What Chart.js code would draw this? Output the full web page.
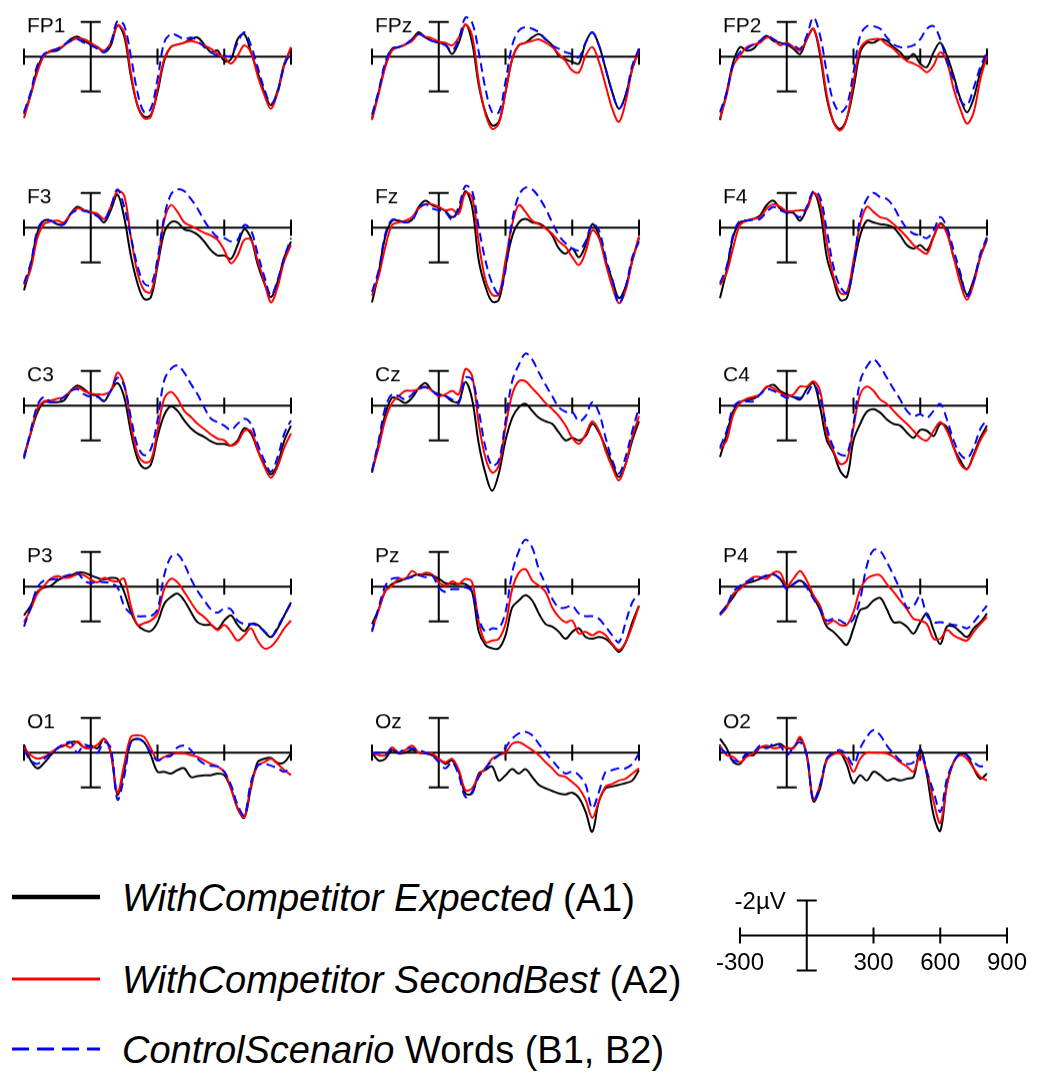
<!DOCTYPE html>
<html>
<head>
<meta charset="utf-8">
<script src="https://cdn.jsdelivr.net/npm/chart.js@4.4.1/dist/chart.umd.min.js"></script>
<style>
  body { margin: 0; width: 1037px; height: 1080px; background: #fff; position: relative; overflow: hidden;
         font-family: "Liberation Sans", Arial, sans-serif; }
  .panel { position: absolute; }
  .leg { position: absolute; left: 122px; font-size: 38px; line-height: 38px; white-space: nowrap; color: #000; }
  .legline { position: absolute; left: 12px; }
</style>
</head>
<body>
<script>
// time axis of every waveform (ms), one sample every 30 ms
const timesMs = [-300, -270, -240, -210, -180, -150, -120, -90, -60, -30,
  0, 30, 60, 90, 120, 150, 180, 210, 240, 270,
  300, 330, 360, 390, 420, 450, 480, 510, 540, 570,
  600, 630, 660, 690, 720, 750, 780, 810, 840, 870, 900];
const tickTimes = [-300, 300, 600, 900];
const scaleTickLabels = ['-300', '300', '600', '900'];
const scaleUnitLabel = '-2µV';

// amplitudes in µV (negative plotted up). A1 = Expected, A2 = SecondBest, B = Control
const fp1A1 = [3.3, 2.2, 0.7, -0.1, -0.3, -0.35, -0.65, -1.0, -1.15, -0.9, -0.7, -0.55, -0.25, -0.65, -1.8, -1.2, 1.1, 2.8, 3.45, 3.35, 2.05, 0.25, -0.55, -0.7, -0.8, -1.0, -1.1, -0.7, -0.25, -0.35, 0.25, 0.15, -1.0, -1.3, -0.25, 0.9, 2.05, 2.8, 1.95, 0.4, -0.45];
const fp1A2 = [3.55, 2.2, 0.9, -0.05, -0.35, -0.45, -0.65, -0.9, -1.05, -1.0, -0.8, -0.55, -0.35, -0.8, -1.8, -1.4, 0.9, 2.8, 3.55, 3.45, 1.85, 0.15, -0.55, -0.7, -0.8, -0.9, -0.8, -0.65, -0.45, -0.15, 0.05, 0.4, -0.05, -0.65, -0.25, 1.1, 2.2, 3.0, 2.05, 0.5, -0.55];
const fp1B = [3.2, 2.05, 0.5, -0.15, -0.3, -0.45, -0.7, -0.9, -1.0, -0.8, -0.65, -0.45, -0.25, -0.8, -2.05, -1.8, -0.05, 2.05, 3.2, 3.0, 1.3, -0.8, -1.3, -1.2, -1.0, -1.1, -0.9, -0.55, -0.25, -0.05, -0.05, -0.05, -0.8, -1.4, -0.65, 0.6, 1.85, 2.7, 2.05, 0.5, -0.25];

const fpzA1 = [3.55, 2.05, 0.5, -0.45, -0.55, -0.7, -1.0, -1.4, -1.1, -0.9, -0.8, -0.7, -0.15, -0.8, -1.85, -0.8, 1.65, 3.2, 3.95, 3.75, 2.05, 0.15, -0.65, -0.8, -1.1, -1.3, -1.0, -0.65, -0.05, 0.15, 0.3, 0.4, -0.8, -1.4, -0.65, 0.7, 2.05, 3.0, 2.2, 0.7, -0.45];
const fpzA2 = [3.65, 2.15, 0.6, -0.35, -0.55, -0.7, -0.9, -1.3, -1.15, -1.05, -0.85, -0.8, -0.65, -1.1, -1.85, -1.2, 1.45, 3.3, 4.15, 3.85, 2.05, 0.15, -0.65, -0.8, -0.9, -1.0, -0.8, -0.55, -0.15, 0.25, 0.8, 0.9, -0.05, -0.55, 0.3, 1.65, 3.0, 3.75, 2.6, 0.7, -0.35];
const fpzB = [3.35, 1.95, 0.3, -0.45, -0.55, -0.7, -1.0, -1.3, -1.1, -0.9, -0.8, -0.65, -0.35, -1.0, -2.25, -1.95, -0.25, 1.85, 3.2, 3.2, 1.45, -0.65, -1.5, -1.7, -1.6, -1.4, -1.0, -0.65, -0.45, -0.25, -0.15, 0.05, -0.8, -1.4, -0.65, 0.7, 2.05, 3.0, 2.2, 0.5, -0.45];

const fp2A1 = [3.65, 2.05, 0.3, -0.55, -0.35, -0.45, -0.9, -1.2, -0.9, -0.8, -0.7, -0.45, -0.15, -1.0, -1.6, -0.05, 2.4, 3.75, 4.15, 3.55, 1.85, -0.25, -0.8, -0.8, -1.0, -0.9, -0.55, -0.25, 0.15, -0.15, 0.4, 0.6, -0.25, -0.8, -0.05, 1.1, 2.4, 3.2, 2.4, 0.9, -0.05];
const fp2A2 = [3.55, 2.2, 0.5, -0.05, -0.55, -0.7, -0.8, -1.1, -1.0, -0.65, -0.8, -0.55, -0.35, -1.0, -1.6, -0.25, 2.2, 3.75, 4.25, 3.55, 1.45, -0.45, -0.9, -1.0, -1.0, -0.7, -0.45, -0.05, 0.25, 0.4, 0.6, 0.9, 0.5, -0.25, 0.3, 1.85, 3.0, 3.85, 3.2, 1.3, -0.05];
const fp2B = [3.2, 2.05, 0.4, -0.25, -0.45, -0.7, -0.9, -1.2, -1.0, -0.8, -0.7, -0.65, -0.45, -1.2, -2.25, -1.2, 0.9, 2.6, 3.2, 2.8, 0.9, -1.2, -1.75, -1.75, -1.6, -1.1, -0.7, -0.55, -0.55, -0.65, -1.0, -1.6, -1.75, -1.0, 0.3, 1.3, 2.5, 2.8, 1.8, 0.6, -0.25];

const f3A1 = [3.6, 2.2, 0.3, -0.4, -0.4, -0.2, -0.2, -0.8, -1.2, -1.0, -0.9, -0.7, -0.3, -1.0, -1.9, -0.6, 1.6, 3.2, 4.1, 4.0, 2.2, 0.3, -0.3, -0.3, 0.1, 0.2, 0.4, 0.8, 1.3, 1.6, 1.6, 1.8, 1.0, 0.1, 0.6, 2.1, 3.2, 4.0, 3.1, 1.7, 0.8];
const f3A2 = [3.3, 2.4, 0.6, -0.2, -0.35, -0.4, -0.3, -0.8, -1.1, -1.0, -0.9, -0.8, -0.5, -1.2, -2.1, -1.85, 0.5, 2.6, 3.6, 3.7, 2.05, -0.4, -1.3, -0.9, -0.3, -0.1, 0.1, 0.3, 0.45, 0.7, 1.3, 2.05, 1.6, 0.7, 0.7, 1.9, 3.1, 4.3, 3.4, 1.9, 1.0];
const f3B = [3.2, 2.05, 0.15, -0.45, -0.4, -0.2, -0.2, -0.8, -1.0, -0.95, -0.85, -0.65, -0.4, -1.2, -2.2, -1.2, 0.5, 2.2, 3.2, 3.3, 1.8, -0.6, -1.9, -2.2, -2.1, -1.65, -1.1, -0.4, 0.15, 0.55, 0.6, 0.8, 0.7, -0.15, 0.15, 1.5, 2.8, 3.9, 3.0, 1.7, 0.6];

const fzA1 = [4.3, 2.6, 0.5, -0.4, -0.4, -0.3, -0.45, -1.2, -1.55, -1.3, -1.15, -0.95, -0.6, -1.0, -2.1, -1.2, 1.9, 3.4, 4.25, 4.15, 2.25, 0.5, -0.3, -0.5, -0.3, -0.25, 0, 0.45, 1.2, 1.5, 1.2, 1.7, 1.0, -0.2, 0.45, 1.9, 3.0, 4.05, 3.4, 1.9, 0.6];
const fzA2 = [3.9, 2.8, 1.1, -0.15, -0.3, -0.4, -0.6, -1.1, -1.35, -1.35, -1.2, -1.0, -1.05, -0.8, -2.0, -1.75, 0.9, 3.0, 3.85, 3.85, 1.9, -0.2, -1.3, -0.9, -0.4, -0.2, 0.05, 0.35, 0.8, 1.1, 1.7, 2.15, 1.4, 0.15, 0.6, 2.05, 3.4, 4.35, 3.6, 1.9, 0.5];
const fzB = [3.7, 2.45, 0.35, -0.45, -0.4, -0.3, -0.4, -1.1, -1.35, -1.1, -1.0, -0.9, -0.45, -1.2, -2.4, -2.1, 0, 1.9, 3.2, 3.8, 2.45, -0.4, -1.85, -2.3, -2.2, -1.75, -1.1, -0.3, 0.45, 0.9, 1.2, 1.3, 0.8, -0.2, 0.15, 1.7, 3.0, 4.35, 3.4, 1.7, 0.8];

const f4A1 = [4.05, 2.45, 0.5, -0.3, -0.4, -0.5, -0.7, -1.3, -1.55, -1.1, -0.9, -0.85, -0.4, -1.1, -2.0, -1.0, 1.7, 3.0, 4.15, 4.05, 2.25, 0.45, -0.4, -0.3, -0.2, -0.15, 0, 0.45, 1.0, 1.2, 1.0, 1.3, 0.5, -0.25, 0.25, 1.7, 2.8, 3.85, 3.0, 1.7, 0.7];
const f4A2 = [3.3, 2.6, 1.1, -0.15, -0.4, -0.5, -0.6, -1.1, -1.35, -1.2, -0.95, -0.95, -1.0, -1.05, -2.0, -1.45, 0.9, 2.8, 3.75, 3.75, 1.9, -0.2, -1.2, -0.9, -0.6, -0.5, -0.2, 0.15, 0.55, 1.0, 1.3, 1.5, 0.55, -0.2, 0.35, 1.7, 3.2, 4.15, 3.2, 1.7, 0.6];
const f4B = [3.2, 2.25, 0.35, -0.4, -0.4, -0.45, -0.5, -0.9, -1.2, -1.0, -0.85, -0.8, -0.6, -1.2, -2.1, -1.75, 0.15, 2.25, 3.4, 3.75, 2.25, -0.6, -1.65, -2.0, -1.75, -1.65, -1.2, -0.5, 0.05, 0.35, 0.45, 0.6, 0.15, -0.6, 0, 1.3, 2.6, 3.95, 3.1, 1.5, 0.55];

const c3A1 = [2.95, 1.6, 0.4, -0.2, -0.2, -0.2, -0.3, -0.85, -1.15, -0.95, -0.65, -0.55, -0.25, -0.85, -1.3, -0.5, 1.5, 3.05, 3.6, 3.4, 1.8, 0.55, 0.05, 0.3, 0.85, 1.3, 1.6, 1.8, 2.05, 2.2, 2.2, 2.3, 2.0, 1.3, 1.6, 2.55, 3.4, 3.95, 3.35, 2.0, 1.15];
const c3A2 = [2.85, 1.6, 0.2, -0.25, -0.3, -0.4, -0.5, -0.85, -1.05, -0.85, -0.7, -0.65, -0.65, -0.85, -1.9, -1.25, 1.05, 2.75, 3.25, 3.15, 1.45, -0.4, -0.8, -0.4, 0.3, 0.65, 1.05, 1.35, 1.65, 1.9, 2.0, 2.3, 2.1, 1.45, 1.45, 2.55, 3.5, 4.15, 3.5, 2.4, 1.6];
const c3B = [3.05, 1.45, 0, -0.5, -0.2, -0.25, -0.5, -0.85, -0.95, -0.65, -0.5, -0.5, -0.3, -0.85, -1.6, -1.15, 0.65, 2.3, 2.85, 2.5, 0.85, -1.45, -2.1, -2.3, -1.9, -1.25, -0.65, 0.1, 0.75, 0.95, 1.15, 1.4, 1.05, 0.75, 1.05, 2.2, 3.15, 3.8, 2.95, 1.6, 0.85];

const czA1 = [3.85, 2.2, 0.5, -0.45, -0.35, -0.15, -0.45, -1.0, -1.3, -0.85, -0.65, -0.55, -0.25, -0.25, -1.35, -0.35, 2.2, 3.9, 4.9, 3.9, 2.0, 0.7, 0.1, -0.1, 0.3, 0.7, 0.9, 1.05, 1.55, 2.0, 1.85, 2.0, 1.75, 1.05, 1.55, 2.4, 3.35, 4.1, 3.35, 2.0, 0.9];
const czA2 = [3.75, 2.4, 0.8, -0.15, -0.55, -0.85, -0.85, -0.95, -1.1, -0.85, -0.55, -0.65, -0.85, -0.65, -2.1, -1.7, 1.05, 3.0, 3.85, 3.45, 1.25, -0.65, -1.4, -1.4, -1.0, -0.6, -0.15, 0.2, 0.6, 1.15, 1.85, 2.2, 1.65, 0.9, 1.45, 2.6, 3.55, 4.3, 3.35, 1.8, 0.6];
const czB = [3.75, 2.0, 0.1, -0.65, -0.55, -0.35, -0.65, -0.95, -1.05, -0.85, -0.6, -0.55, -0.35, -0.15, -1.6, -1.5, 0.3, 2.4, 3.45, 3.15, 0.9, -1.4, -2.35, -3.0, -2.65, -1.9, -1.2, -0.55, 0.1, 0.35, 0.35, 0.9, 0.6, -0.2, 0.4, 1.85, 3.15, 3.9, 2.95, 1.45, 0.1];

const c4A1 = [2.95, 1.65, 0.3, -0.2, -0.35, -0.4, -0.65, -1.05, -1.2, -0.85, -0.65, -0.5, -0.35, -0.95, -1.3, 0.1, 2.0, 2.7, 3.75, 4.1, 2.0, 1.05, 0.35, 0.2, 0.4, 0.8, 1.05, 1.15, 1.55, 1.85, 1.4, 1.45, 1.75, 1.05, 1.25, 2.4, 3.15, 3.65, 2.8, 1.85, 1.15];
const c4A2 = [2.5, 2.0, 0.5, -0.15, -0.4, -0.5, -0.65, -1.1, -1.0, -0.75, -0.55, -0.65, -1.1, -1.1, -1.4, -0.85, 1.65, 2.6, 3.35, 3.15, 1.25, -0.65, -1.1, -0.85, -0.35, -0.1, 0.3, 0.7, 1.05, 1.45, 1.85, 2.0, 1.45, 0.95, 1.45, 2.4, 3.35, 3.65, 2.9, 2.0, 1.35];
const c4B = [2.4, 1.45, 0.1, -0.25, -0.25, -0.25, -0.65, -0.95, -0.85, -0.65, -0.45, -0.5, -0.45, -0.65, -1.2, -0.45, 1.25, 2.4, 2.8, 2.8, 1.05, -1.4, -2.25, -2.65, -2.25, -1.6, -0.95, -0.35, 0.3, 0.6, 0.5, 0.7, 0.3, -0.1, 0.8, 2.0, 2.8, 3.05, 2.4, 1.35, 0.8];

const p3A1 = [1.65, 1.1, 0.3, 0.05, -0.05, -0.35, -0.55, -0.65, -0.8, -0.8, -0.65, -0.5, -0.4, -0.5, -0.45, 0.3, 1.45, 2.2, 2.5, 2.55, 2.05, 1.0, 0.6, 0.4, 0.8, 1.45, 2.05, 2.2, 2.2, 2.45, 1.95, 1.65, 2.2, 2.55, 2.15, 2.2, 2.6, 2.9, 2.4, 1.65, 0.9];
const p3A2 = [2.05, 1.3, 0.4, -0.05, -0.45, -0.6, -0.5, -0.55, -0.7, -0.65, -0.4, -0.25, -0.5, -0.35, -0.3, -0.45, 1.1, 2.2, 2.1, 1.95, 1.55, 0.15, -0.45, -0.25, 0.3, 0.9, 1.45, 1.75, 2.15, 2.5, 2.2, 2.6, 3.1, 2.8, 2.4, 3.1, 3.55, 3.45, 3.0, 2.4, 1.95];
const p3B = [2.3, 1.2, 0.05, -0.35, -0.4, -0.45, -0.6, -0.7, -0.8, -0.35, -0.2, -0.3, -0.25, -0.2, 0.05, 1.1, 1.55, 1.7, 1.7, 1.7, 1.3, -0.65, -1.7, -1.85, -1.3, -0.45, 0.25, 0.8, 1.3, 1.5, 1.25, 1.3, 1.95, 2.15, 2.15, 2.25, 2.55, 2.9, 2.3, 1.65, 0.95];

const pzA1 = [2.15, 1.3, 0.25, -0.15, -0.3, -0.45, -0.6, -0.7, -0.7, -0.65, -0.45, -0.2, -0.15, -0.15, -0.15, 0.3, 2.6, 3.35, 3.55, 3.55, 2.8, 1.2, 0.8, 0.5, 0.8, 1.55, 2.15, 2.3, 2.6, 3.0, 2.6, 2.4, 2.9, 3.0, 2.9, 3.0, 3.35, 3.75, 3.2, 2.05, 1.1];
const pzA2 = [2.5, 1.35, 0.25, -0.05, -0.45, -0.45, -0.9, -0.65, -0.8, -0.7, -0.25, -0.05, -0.3, -0.15, -0.45, -0.25, 2.05, 3.2, 3.1, 3.0, 2.15, 0.15, -0.8, -1.0, -0.35, -0.05, 0.3, 1.2, 1.75, 2.05, 1.95, 2.7, 2.6, 2.8, 2.6, 2.8, 3.3, 3.65, 3.2, 2.25, 1.1];
const pzB = [2.6, 1.2, -0.05, -0.45, -0.5, -0.45, -0.55, -0.65, -0.55, -0.65, 0.05, 0.3, 0.15, 0.15, 0.05, 0.3, 1.85, 2.6, 2.4, 2.4, 1.45, -0.8, -2.05, -2.7, -2.25, -1.0, -0.15, 0.7, 1.2, 1.2, 1.1, 1.55, 1.7, 1.7, 1.85, 2.3, 2.8, 3.2, 2.05, 0.9, 0.4];

const p4A1 = [1.55, 1.1, 0.6, 0.05, -0.2, -0.3, -0.45, -0.6, -0.7, -0.45, 0.05, -0.15, -0.35, -0.05, 0.6, 1.35, 2.3, 2.6, 3.0, 3.35, 2.4, 1.35, 1.2, 0.8, 0.65, 1.3, 2.05, 2.05, 2.3, 2.7, 2.05, 1.55, 2.5, 3.3, 2.3, 2.3, 2.6, 2.9, 2.4, 2.05, 1.55];
const p4A2 = [1.65, 1.2, 0.4, 0.15, -0.25, -0.55, -0.55, -0.45, -0.8, -0.8, -0.05, -0.45, -0.9, -0.35, 0.5, 1.1, 2.15, 1.95, 2.2, 2.2, 1.45, 0.15, -0.45, -0.65, -0.65, -0.15, 0.3, 0.8, 1.3, 1.85, 1.95, 2.15, 3.0, 3.0, 2.5, 2.8, 3.0, 3.1, 2.6, 2.15, 1.75];
const p4B = [1.6, 1.1, 0.3, -0.05, -0.3, -0.45, -0.5, -0.65, -0.7, -0.45, 0.15, -0.15, -0.35, 0.05, 0.7, 1.3, 1.95, 1.85, 1.95, 2.15, 1.85, 0.7, -1.2, -2.1, -2.05, -1.4, -0.65, 0.2, 1.2, 1.1, 0.55, 1.65, 2.05, 2.05, 2.1, 2.2, 2.25, 2.4, 2.05, 1.55, 1.1];

const o1A1 = [-0.45, 0.45, 0.9, 0.6, 0.15, -0.25, -0.4, -0.6, -0.6, -0.3, -0.4, -0.25, -0.8, 0, 2.4, 1.0, -0.6, -0.8, -0.6, 0.15, 1.1, 1.1, 1.2, 1.0, 0.9, 1.4, 1.35, 1.3, 1.3, 1.2, 1.3, 2.05, 3.2, 3.75, 2.05, 0.55, 0.35, 0.3, 0.6, 0.55, 0.05];
const o1A2 = [-0.3, 0.15, 0.35, 0.25, 0, -0.25, -0.45, -0.3, -0.65, -0.3, -0.25, -0.45, -0.8, 0.05, 2.3, 0.7, -0.9, -1.0, -0.9, -0.25, 0.45, 0.25, 0.1, 0.05, 0.05, 0.15, 0.25, 0.45, 0.65, 0.8, 1.1, 2.05, 3.2, 3.7, 1.9, 0.75, 0.55, 0.35, 0.65, 1.0, 1.3];
const o1B = [-0.15, 0.45, 0.65, 0.35, 0.05, -0.25, -0.5, -0.6, 0, -0.45, -0.3, 0, -0.6, -0.25, 2.7, 1.4, -0.6, -0.8, -0.6, 0, 0.45, 0.25, 0.2, -0.3, -0.4, -0.15, 0.35, 0.65, 0.75, 0.8, 1.1, 1.85, 3.0, 3.6, 1.7, 0.75, 0.65, 0.75, 0.9, 1.1, 0.8];

const ozA1 = [0, 0.45, 0.35, -0.15, 0.05, 0, -0.15, 0, 0.05, 0.15, 0.35, 0.65, 0.45, 1.1, 2.35, 2.35, 1.2, 1.0, 0.8, 1.6, 1.3, 0.95, 1.2, 0.95, 1.4, 1.85, 2.05, 2.2, 2.35, 2.4, 2.3, 2.6, 3.4, 4.55, 2.8, 2.05, 1.95, 1.85, 1.75, 1.6, 1.0];
const ozA2 = [0, 0.15, 0.15, -0.3, 0, -0.15, -0.4, 0, 0, 0.05, 0.35, 0.55, 0.35, 1.0, 2.15, 2.05, 1.3, 0.9, 0.35, 0.15, 0, -0.5, -0.6, -0.4, -0.15, 0.15, 0.55, 0.9, 1.3, 1.4, 1.7, 2.05, 2.7, 3.75, 2.8, 1.95, 1.8, 1.6, 1.5, 1.2, 0.9];
const ozB = [0.05, 0, 0.15, -0.25, 0, -0.25, -0.25, -0.15, 0, 0.15, 0.55, 0.9, 0.55, 1.3, 2.55, 2.25, 1.4, 0.9, 0.45, 0.15, -0.3, -0.8, -1.1, -1.2, -1.0, -0.5, 0, 0.45, 0.9, 1.2, 1.1, 1.3, 1.85, 3.2, 2.25, 1.1, 1.0, 0.9, 0.9, 0.65, 0.05];

const o2A1 = [-0.8, -0.25, 0.55, 0.65, 0.15, 0.15, -0.3, -0.3, -0.4, -0.5, -0.25, -0.3, -0.8, 0.15, 2.8, 2.05, 0.35, 0.05, 0, 0.7, 1.75, 1.3, 1.6, 1.1, 1.3, 1.6, 1.5, 1.6, 1.5, 1.4, -0.2, 1.3, 3.6, 4.5, 1.85, 0.55, 0.05, 0.15, 0.9, 1.5, 1.2];
const o2A2 = [-0.4, 0.15, 0.25, 0.55, 0.25, 0.05, -0.3, -0.4, -0.25, -0.3, -0.3, -0.25, -0.9, 0.15, 2.7, 1.85, 0.45, 0.1, 0.05, 0.35, 1.1, 0.35, 0, 0, 0, 0.05, 0.25, 0.55, 0.8, 1.1, 0.15, 1.1, 2.8, 4.05, 1.85, 0.55, 0.15, 0.35, 0.9, 1.4, 1.6];
const o2B = [-0.25, 0.05, 0.45, 0.45, 0.05, 0, -0.4, -0.25, -0.5, -0.4, 0.15, -0.3, -0.6, 0.15, 2.8, 1.85, 0.35, 0, -0.15, 0.15, 0.7, -0.25, -0.9, -1.3, -1.0, -0.4, 0.05, 0.45, 0.65, 0.55, -0.15, 1.1, 2.25, 3.4, 1.5, 0.55, 0.05, 0.15, 0.55, 0.8, 0.65];

// panel name, series, grid column, grid row
const panels = [
  ['FP1', fp1A1, fp1A2, fp1B, 0, 0], ['FPz', fpzA1, fpzA2, fpzB, 1, 0], ['FP2', fp2A1, fp2A2, fp2B, 2, 0],
  ['F3', f3A1, f3A2, f3B, 0, 1], ['Fz', fzA1, fzA2, fzB, 1, 1], ['F4', f4A1, f4A2, f4B, 2, 1],
  ['C3', c3A1, c3A2, c3B, 0, 2], ['Cz', czA1, czA2, czB, 1, 2], ['C4', c4A1, c4A2, c4B, 2, 2],
  ['P3', p3A1, p3A2, p3B, 0, 3], ['Pz', pzA1, pzA2, pzB, 1, 3], ['P4', p4A1, p4A2, p4B, 2, 3],
  ['O1', o1A1, o1A2, o1B, 0, 4], ['Oz', ozA1, ozA2, ozB, 1, 4], ['O2', o2A1, o2A2, o2B, 2, 4]
];

const legendItems = [
  { italic: 'WithCompetitor Expected', plain: ' (A1)', color: '#000', width: 4.5, dash: '' },
  { italic: 'WithCompetitor SecondBest', plain: ' (A2)', color: '#ff0000', width: 3, dash: '' },
  { italic: 'ControlScenario', plain: ' Words (B1, B2)', color: '#0000ff', width: 3, dash: '17 8' }
];

// layout
const colLeft = [24, 372, 720];       // pixel of -300 ms
const rowZero = [56, 227, 405, 586, 752]; // pixel of 0 µV
const plotW = 267;                    // -300 .. 900 ms
const pxPerUv = 17.5;
const yTop = -3.6, yBottom = 5.4;
const padX = 12;

const erpAxes = {
  id: 'erpAxes',
  beforeDatasetsDraw(chart, args, opts) {
    const { ctx, scales: { x, y } } = chart;
    const y0 = y.getPixelForValue(0);
    const xl = x.getPixelForValue(-300), xr = x.getPixelForValue(900);
    const x0 = x.getPixelForValue(0);
    const yt = y.getPixelForValue(-2), yb = y.getPixelForValue(2);
    ctx.save();
    ctx.strokeStyle = '#000';
    ctx.lineWidth = 2;
    ctx.beginPath();
    ctx.moveTo(xl, y0); ctx.lineTo(xr, y0);
    tickTimes.forEach(t => {
      const px = x.getPixelForValue(t);
      ctx.moveTo(px, y0 - 8); ctx.lineTo(px, y0 + 8);
    });
    ctx.moveTo(x0, yt); ctx.lineTo(x0, yb);
    ctx.moveTo(x0 - 10, yt); ctx.lineTo(x0 + 10, yt);
    ctx.moveTo(x0 - 10, yb); ctx.lineTo(x0 + 10, yb);
    ctx.stroke();
    ctx.fillStyle = '#000';
    if (opts.label) {
      ctx.font = '21px "Liberation Sans", Arial, sans-serif';
      ctx.textAlign = 'left';
      ctx.fillText(opts.label, xl + 3, y0 - 24);
    }
    if (opts.scaleText) {
      ctx.font = '24px "Liberation Sans", Arial, sans-serif';
      ctx.textAlign = 'right';
      ctx.fillText(scaleUnitLabel, x0 - 21, yt + 8);
      ctx.textAlign = 'center';
      tickTimes.forEach((t, i) => ctx.fillText(scaleTickLabels[i], x.getPixelForValue(t), y0 + 34));
    }
    ctx.restore();
  }
};

function makeBox(left, top, w, h) {
  const div = document.createElement('div');
  div.className = 'panel';
  Object.assign(div.style, { left: left + 'px', top: top + 'px', width: w + 'px', height: h + 'px' });
  const cv = document.createElement('canvas');
  div.appendChild(cv);
  document.body.appendChild(div);
  return cv;
}

function pts(vals) {
  return vals.map((v, i) => ({ x: timesMs[i], y: v }));
}

function baseOptions(ymin, ymax, pad, pluginOpts) {
  return {
    animation: false,
    responsive: true,
    maintainAspectRatio: false,
    layout: { padding: { left: pad, right: pad, top: 0, bottom: 0 } },
    elements: { point: { radius: 0 }, line: { tension: 0.35 } },
    scales: {
      x: { type: 'linear', min: -300, max: 900, display: false },
      y: { min: ymin, max: ymax, reverse: true, display: false }
    },
    plugins: { legend: { display: false }, tooltip: { enabled: false }, erpAxes: pluginOpts }
  };
}

panels.forEach(([name, a1, a2, b, col, row]) => {
  const cv = makeBox(colLeft[col] - padX, rowZero[row] + yTop * pxPerUv,
                     plotW + 2 * padX, (yBottom - yTop) * pxPerUv);
  new Chart(cv, {
    type: 'line',
    data: {
      datasets: [
        { data: pts(b), borderColor: '#0000ff', borderWidth: 2, borderDash: [9, 5], fill: false, clip: false },
        { data: pts(a2), borderColor: '#ff0000', borderWidth: 2, fill: false, clip: false },
        { data: pts(a1), borderColor: '#000000', borderWidth: 2, fill: false, clip: false }
      ]
    },
    options: baseOptions(yTop, yBottom, padX, { label: name }),
    plugins: [erpAxes]
  });
});

// scale bar (same scales as the panels, no data)
const scaleCv = makeBox(740 - 40, 935 - 3 * pxPerUv, plotW + 80, 6 * pxPerUv);
new Chart(scaleCv, {
  type: 'line',
  data: { datasets: [{ data: [] }] },
  options: baseOptions(-3, 3, 40, { scaleText: true }),
  plugins: [erpAxes]
});

// legend
const legBase = [911, 993, 1063];
legendItems.forEach((item, i) => {
  const svgNS = 'http://www.w3.org/2000/svg';
  const svg = document.createElementNS(svgNS, 'svg');
  svg.setAttribute('class', 'legline');
  svg.setAttribute('width', '90');
  svg.setAttribute('height', '10');
  svg.style.top = (legBase[i] - 14 - 5) + 'px';
  const ln = document.createElementNS(svgNS, 'line');
  ln.setAttribute('x1', '0'); ln.setAttribute('x2', '88');
  ln.setAttribute('y1', '5'); ln.setAttribute('y2', '5');
  ln.setAttribute('stroke', item.color);
  ln.setAttribute('stroke-width', item.width);
  if (item.dash) ln.setAttribute('stroke-dasharray', item.dash);
  svg.appendChild(ln);
  document.body.appendChild(svg);

  const d = document.createElement('div');
  d.className = 'leg';
  d.style.top = (legBase[i] - 32) + 'px';
  const em = document.createElement('i');
  em.textContent = item.italic;
  d.appendChild(em);
  d.appendChild(document.createTextNode(item.plain));
  document.body.appendChild(d);
});
</script>
</body>
</html>
